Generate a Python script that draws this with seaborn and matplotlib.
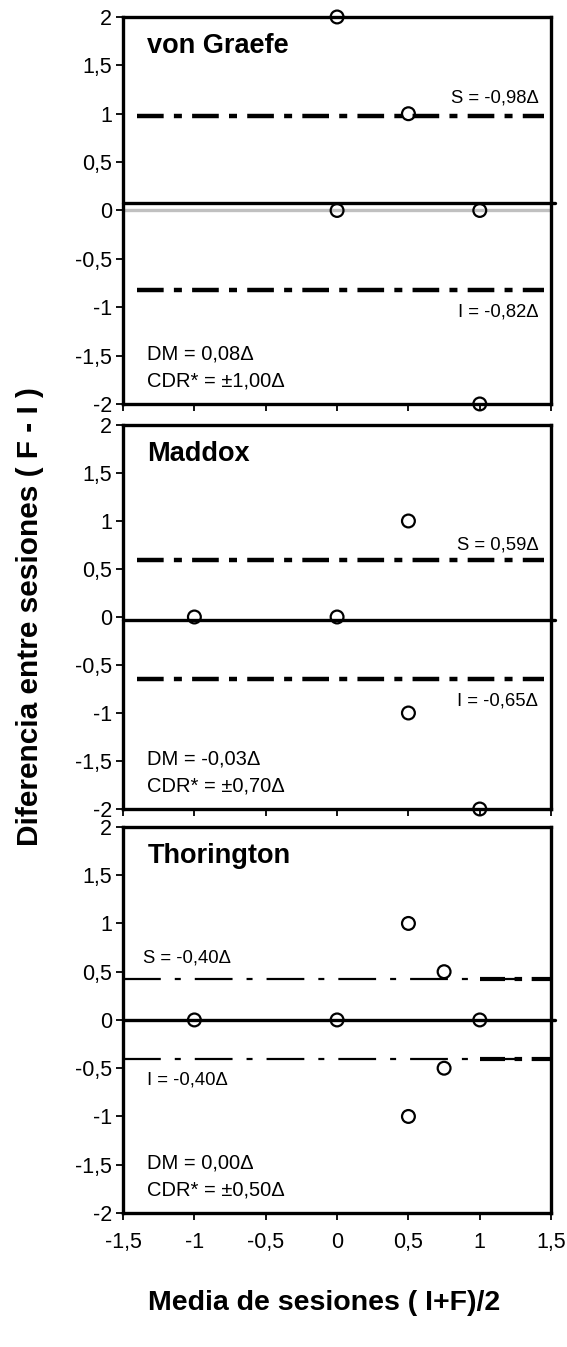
import seaborn as sns
import pandas as pd
import matplotlib.pyplot as plt

# Bland-Altman style panels, one per test
sns.set_theme(style="ticks")
plt.rcParams['font.family'] = ['Liberation Sans', 'DejaVu Sans']
plt.rcParams['text.color'] = 'black'
plt.rcParams['xtick.color'] = 'black'
plt.rcParams['ytick.color'] = 'black'

panels = ['von Graefe', 'Maddox', 'Thorington']

# mean of sessions (I+F)/2 and difference (F - I)
vg_x = [0, 0.5, 0, 1, 1]
vg_y = [2, 1, 0, 0, -2]
md_x = [-1, 0, 0.5, 0.5, 1]
md_y = [0, 0, 1, -1, -2]
th_x = [-1, 0, 1, 0.5, 0.75, 0.75, 0.5]
th_y = [0, 0, 0, 1, 0.5, -0.5, -1]

# upper / lower limits and mean difference
upper = [0.98, 0.59, 0.42]
lower = [-0.82, -0.65, -0.40]
mean_diff = [0.08, -0.03, 0.0]

s_labels = ['S = -0,98Δ', 'S = 0,59Δ', 'S = -0,40Δ']
i_labels = ['I = -0,82Δ', 'I = -0,65Δ', 'I = -0,40Δ']
dm_labels = ['DM = 0,08Δ', 'DM = -0,03Δ', 'DM = 0,00Δ']
cdr_labels = ['CDR* = ±1,00Δ', 'CDR* = ±0,70Δ', 'CDR* = ±0,50Δ']

yticks = [2, 1.5, 1, 0.5, 0, -0.5, -1, -1.5, -2]
ytick_labels = ['2', '1,5', '1', '0,5', '0', '-0,5', '-1', '-1,5', '-2']
xticks = [-1.5, -1, -0.5, 0, 0.5, 1, 1.5]
xtick_labels = ['-1,5', '-1', '-0,5', '0', '0,5', '1', '1,5']

xs = [vg_x, md_x, th_x]
ys = [vg_y, md_y, th_y]

fig = plt.figure(figsize=(5.67, 13.47), dpi=100)
boxes = [[0.217, 0.7001, 0.755, 0.2873],
         [0.217, 0.3994, 0.755, 0.2851],
         [0.217, 0.0995, 0.755, 0.2866]]

dash = (0, (6, 2.3, 1.8, 2.3))
thin = (0, (17, 6.3, 2.7, 6.3))

for k in range(3):
    ax = fig.add_axes(boxes[k])
    ax.set_xlim(-1.5, 1.5)
    ax.set_ylim(-2, 2)

    if k == 0:
        ax.plot([-1.5, 1.5], [0, 0], color='#c0c0c0', lw=2.4, zorder=1)
    ax.plot([-1.5, 1.53], [mean_diff[k], mean_diff[k]], color='black', lw=2.4,
            zorder=2, clip_on=False)

    if k < 2:
        for v in (upper[k], lower[k]):
            ax.plot([-1.4, 1.45], [v, v], color='black', lw=3.2,
                    linestyle=dash, dash_capstyle='butt', zorder=2)
    else:
        for v in (upper[k], lower[k]):
            ax.plot([-1.5, 1.5], [v, v], color='black', lw=1.6,
                    linestyle=thin, dash_capstyle='butt', zorder=2)
            ax.plot([1.0, 1.5], [v, v], color='black', lw=3.0,
                    linestyle=dash, dash_capstyle='butt', zorder=2)

    df = pd.DataFrame({'media': xs[k], 'dif': ys[k]})
    sns.scatterplot(data=df, x='media', y='dif', ax=ax, s=85, color='black',
                    facecolors='none', edgecolor='black', linewidth=1.6,
                    zorder=5, clip_on=False)

    ax.set_yticks(yticks)
    ax.set_yticklabels(ytick_labels, fontsize=15.5)
    ax.set_xticks(xticks)
    if k == 2:
        ax.set_xticklabels(xtick_labels, fontsize=15.5)
    else:
        ax.set_xticklabels([])
    ax.tick_params(direction='out', length=5, width=1.3, color='black', pad=3)
    ax.tick_params(axis='x', pad=9)
    ax.set_xlabel('')
    ax.set_ylabel('')
    for sp in ax.spines.values():
        sp.set_visible(True)
        sp.set_linewidth(2.4)
        sp.set_color('black')

    ax.text(-1.33, 1.7, panels[k], fontsize=19.5, fontweight='bold', va='center', ha='left')
    ax.text(-1.33, -1.48, dm_labels[k], fontsize=14.5, va='center', ha='left')
    ax.text(-1.33, -1.76, cdr_labels[k], fontsize=14.5, va='center', ha='left')
    if k < 2:
        sy = [1.16, 0.75][k]
        iy = [-1.05, -0.88][k]
        ax.text(1.41, sy, s_labels[k], fontsize=13.3, va='center', ha='right')
        ax.text(1.41, iy, i_labels[k], fontsize=13.3, va='center', ha='right')
    else:
        ax.text(-1.36, 0.64, s_labels[k], fontsize=13.3, va='center', ha='left')
        ax.text(-1.33, -0.62, i_labels[k], fontsize=13.3, va='center', ha='left')

fig.text(0.053, 0.542, 'Diferencia entre sesiones ( F - I )', rotation=90,
         fontsize=21.5, fontweight='bold', ha='center', va='center')
fig.text(0.572, 0.033, 'Media de sesiones ( I+F)/2', fontsize=20.5,
         fontweight='bold', ha='center', va='center')

fig.savefig('out.png', dpi=100)
